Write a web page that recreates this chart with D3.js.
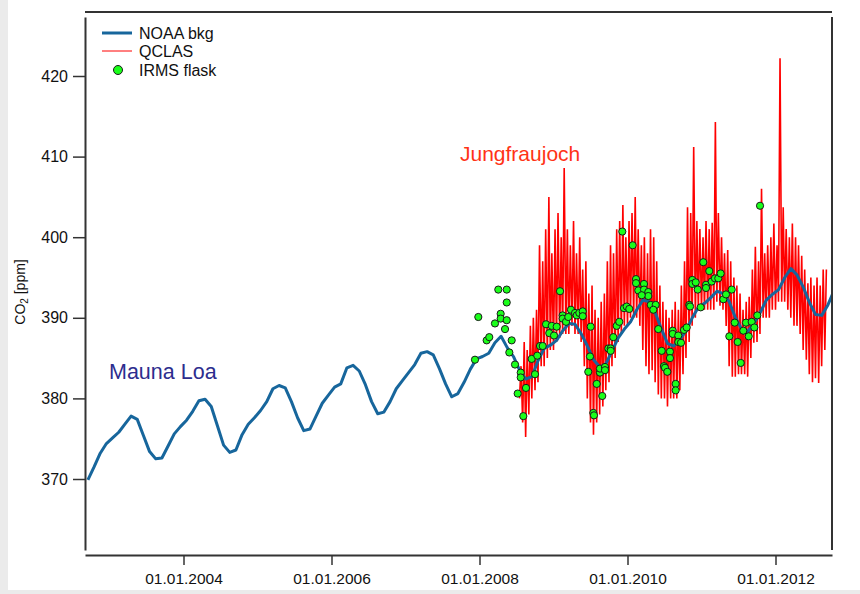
<!DOCTYPE html>
<html>
<head>
<meta charset="utf-8">
<script src="https://cdn.jsdelivr.net/npm/d3@7"></script>
<style>
  html, body { margin: 0; padding: 0; background: #ebebeb; }
  svg { display: block; font-family: "Liberation Sans", Arial, sans-serif; }
</style>
</head>
<body>
<svg id="chart" width="860" height="594"></svg>
<script>
// ---- data -------------------------------------------------------------
// NOAA background (Mauna Loa), monthly means, first month Sep 2002
const noaaFirstYear = 2002, noaaFirstMonth = 9;
const noaaCO2 = [
  369.9, 371.5, 373.2, 374.4,
  375.1, 375.8, 376.8, 377.8, 377.4, 375.4, 373.4, 372.5, 372.6, 374.1, 375.6, 376.5,
  377.3, 378.4, 379.7, 379.9, 379.0, 376.6, 374.2, 373.3, 373.6, 375.5, 376.8, 377.6,
  378.5, 379.6, 381.2, 381.6, 381.3, 379.6, 377.6, 376.0, 376.2, 377.8, 379.4, 380.4,
  381.4, 381.8, 383.8, 384.1, 383.4, 381.7, 379.6, 378.1, 378.3, 379.6, 381.2, 382.2,
  383.2, 384.2, 385.6, 385.8, 385.4, 383.7, 381.8, 380.2, 380.6, 382.0, 383.6, 384.9,
  385.2, 385.6, 386.9, 387.7, 386.3, 385.2, 383.5, 382.4, 382.7, 384.7, 386.2, 386.6,
  387.2, 388.4, 389.3, 389.2, 388.0, 386.5, 384.8, 383.9, 384.3, 385.9, 387.5, 388.6,
  389.5, 391.0, 392.2, 392.0, 390.6, 388.6, 386.8, 386.5, 387.3, 388.4, 390.0, 391.3,
  391.8, 392.5, 393.3, 393.0, 392.0, 390.0, 388.6, 388.3, 389.3, 390.6, 392.2, 392.9,
  393.5, 395.0, 396.1, 395.3, 393.8, 391.9, 390.4, 390.3, 391.6, 393.4
];

// QCLAS Jungfraujoch, half-monthly minimum / maximum, first bin 16 Jul 2008
const qclasFirstYear = 2008, qclasFirstHalfMonth = 13; // 0 = 1 Jan, 1 = 16 Jan, ...
const qclasMax = [
  384, 387, 386, 389, 390, 391, 399, 397, 401, 405,
  398, 401, 403, 400, 408.6, 401, 399, 402, 398, 400,
  396, 397, 393, 394, 391, 390, 392, 393, 397, 399,
  398, 401, 402, 404, 400, 402, 403, 405, 401, 399,
  400, 398, 401, 400, 397, 394, 392, 391, 390, 391,
  392, 391, 394, 397, 403.7, 403, 411.2, 402, 401, 400,
  402, 401, 401.8, 414.3, 403, 400, 398, 398.4, 397, 395,
  394, 393, 391, 392, 392.6, 396, 398.8, 397, 406, 398,
  399, 400, 401.7, 399, 422.2, 403.7, 401, 400, 401.7, 400,
  399, 397.7, 396, 394.3, 395, 394, 395, 394, 396, 396
];
const qclasMin = [
  380, 377, 375.2, 378, 380, 381, 382, 384, 384, 385,
  386, 386, 387, 387.5, 388, 388, 388, 389, 388, 388,
  387, 384, 380, 377, 375.5, 377, 378, 379, 381, 382,
  384, 385, 387, 388, 389, 389, 390, 390, 390, 389,
  386, 384, 383, 383.5, 382, 380.5, 380, 380, 379, 380,
  380, 380, 381, 383, 385, 387, 389, 390, 391, 391,
  391, 391, 391, 391, 392, 391.5, 391, 389, 384, 382.7,
  382.7, 383, 383, 383, 382.7, 385, 386.9, 387, 388, 390,
  390, 390, 391, 391, 392, 392, 392, 391, 390, 389,
  389, 388, 386, 384.8, 383, 382, 382.5, 381.9, 384, 386
];

// IRMS flask samples (decimal year, ppm)
const flaskTime = [
  2007.984, 2007.939, 2008.097, 2008.132, 2008.254, 2008.368, 2008.368, 2008.286, 2008.286, 2008.209,
  2008.368, 2008.345, 2008.435, 2008.403, 2008.480, 2008.557, 2008.557, 2008.516, 2008.592, 2008.628,
  2008.750, 2008.705, 2008.781, 2008.818, 2008.854, 2008.899, 2008.943, 2008.976, 2009.007, 2009.043,
  2009.088, 2009.124, 2009.124, 2009.169, 2009.200, 2009.236, 2009.291, 2009.314, 2009.349, 2009.395,
  2009.395, 2009.503, 2009.493, 2009.470, 2009.584, 2009.538, 2009.547, 2009.659, 2009.628, 2009.628,
  2009.696, 2009.696, 2009.741, 2009.773, 2009.773, 2009.808, 2009.854, 2009.889, 2009.953, 2009.989,
  2010.024, 2009.930, 2010.070, 2010.115, 2010.115, 2010.146,
  2010.223, 2010.223, 2010.281, 2010.281, 2010.192, 2010.314, 2010.381, 2010.349, 2010.416, 2010.462,
  2010.493, 2010.507, 2010.538, 2010.574, 2010.574, 2010.651, 2010.651, 2010.611, 2010.611, 2010.686,
  2010.686, 2010.723, 2010.764, 2010.800, 2010.835, 2010.845, 2010.989, 2010.876, 2010.876, 2010.922,
  2011.024, 2011.105, 2011.061, 2011.061, 2010.949, 2011.138, 2011.182, 2011.227, 2011.259, 2011.295,
  2011.331, 2011.408, 2011.449, 2011.376, 2011.489, 2011.530, 2011.565, 2011.601, 2011.638, 2011.678,
  2011.714, 2011.754, 2011.791
];
const flaskCO2 = [
  390.1, 384.8, 387.2, 387.6, 393.5, 393.5, 391.9, 390.5, 389.9, 389.3,
  389.7, 388.6, 387.2, 385.7, 384.2, 383.2, 382.6, 380.6, 377.8, 381.3,
  383.0, 384.9, 385.3, 386.5, 386.5, 389.2, 388.1, 389.0, 387.8, 388.9,
  393.3, 390.3, 389.9, 389.5, 390.1, 391.0, 390.6, 390.3, 390.6, 390.8,
  390.2, 388.9, 385.2, 383.3, 381.8, 378.2, 377.9, 380.3, 383.2, 383.7,
  383.9, 383.5, 386.2, 386.2, 385.9, 387.6, 389.0, 389.5, 391.2, 391.4,
  391.1, 400.7, 399.0, 394.8, 394.3, 393.4,
  394.2, 393.5, 393.2, 392.7, 392.8, 391.6, 391.6, 391.0, 388.6, 385.9,
  384.0, 383.8, 383.3, 385.8, 385.0, 381.8, 381.0, 388.4, 388.0, 387.8,
  387.0, 386.9, 388.5, 388.8, 391.6, 391.4, 391.3, 394.7, 394.2, 394.4,
  396.9, 395.8, 394.1, 393.7, 393.5, 394.5, 394.9, 394.9, 395.5, 392.3,
  392.9, 393.5, 389.4, 387.7, 387.0, 384.4, 388.4, 389.4, 387.7, 389.5,
  388.8, 390.3, 403.9
];

const yTicks = [370, 380, 390, 400, 410, 420];
const xTicks = [2004, 2006, 2008, 2010, 2012];
const legendItems = ["NOAA bkg", "QCLAS", "IRMS flask"];

// ---- layout -----------------------------------------------------------
const svg = d3.select("#chart");
const W = 860, H = 594;
const plotLeft = 85, plotRight = 832, plotTop = 17, plotBottom = 550;
const frameTop = 12, frameBottom = 555;

const blue = "#17669c", red = "#ff0000", green = "#1aff1a";

// decimal-year scale; ticks fall on 1 January
const xBase = d3.scaleLinear().domain([2004, 2012]).range([183.5, 775.5]);
const x = d3.scaleLinear().domain([xBase.invert(plotLeft), xBase.invert(plotRight)]).range([plotLeft, plotRight]);
const yBase = d3.scaleLinear().domain([370, 420]).range([479, 76]);
const y = d3.scaleLinear().domain([yBase.invert(plotBottom), yBase.invert(plotTop)]).range([plotBottom, plotTop]);

// page and panel background
svg.append("rect").attr("width", W).attr("height", H).attr("fill", "#ebebeb");
svg.append("rect").attr("x", 8).attr("y", 0).attr("width", W - 8).attr("height", 590).attr("fill", "#ffffff");

svg.append("clipPath").attr("id", "plotClip")
  .append("rect").attr("x", plotLeft).attr("y", plotTop)
  .attr("width", plotRight - plotLeft).attr("height", plotBottom - plotTop);

const plot = svg.append("g").attr("clip-path", "url(#plotClip)");

// QCLAS trace: each half-month bin goes from its minimum up to its maximum
const qclasPts = [];
qclasMax.forEach((hi, i) => {
  const h = qclasFirstHalfMonth + i;
  const t = qclasFirstYear + (Math.floor(h / 2) + (h % 2 ? 15 / 31 : 0)) / 12;
  qclasPts.push([t, qclasMin[i]]);
  qclasPts.push([t + 1 / 48, hi]);
});
plot.append("path")
  .datum(qclasPts)
  .attr("fill", "none")
  .attr("stroke", red)
  .attr("stroke-width", 1.6)
  .attr("stroke-linejoin", "miter")
  .attr("stroke-miterlimit", 2)
  .attr("d", d3.line().x(d => x(d[0])).y(d => y(d[1])));

// NOAA background curve
const noaaPts = noaaCO2.map((v, i) => {
  const m = noaaFirstMonth - 1 + i;
  return [noaaFirstYear + (m + 0.5) / 12, v];
});
plot.append("path")
  .datum(noaaPts)
  .attr("fill", "none")
  .attr("stroke", blue)
  .attr("stroke-width", 3)
  .attr("stroke-linejoin", "round")
  .attr("d", d3.line().x(d => x(d[0])).y(d => y(d[1])));

// flask samples
plot.selectAll("circle.flask")
  .data(flaskTime.map((t, i) => [t, flaskCO2[i]]))
  .join("circle")
  .attr("class", "flask")
  .attr("cx", d => x(d[0]))
  .attr("cy", d => y(d[1]))
  .attr("r", 3.6)
  .attr("fill", green)
  .attr("stroke", "#1a1a1a")
  .attr("stroke-width", 1);

// ---- axes -------------------------------------------------------------
const axisColor = "#333333";

const yAxis = svg.append("g")
  .attr("transform", `translate(${plotLeft},0)`)
  .call(d3.axisLeft(y).tickValues(yTicks).tickSize(12).tickSizeOuter(0).tickPadding(5).tickFormat(d3.format("d")));
yAxis.select(".domain").attr("stroke", axisColor).attr("stroke-width", 2);
yAxis.selectAll(".tick line").attr("stroke", axisColor).attr("stroke-width", 1.5);
yAxis.selectAll(".tick text").attr("font-size", 16).attr("fill", "#111")
  .attr("font-family", "'Liberation Sans', Arial, sans-serif");

const xAxis = svg.append("g")
  .attr("transform", `translate(0,${frameBottom})`)
  .call(d3.axisBottom(x).tickValues(xTicks).tickSize(10).tickSizeOuter(0).tickPadding(8)
    .tickFormat(d => "01.01." + d));
xAxis.select(".domain").attr("stroke", axisColor).attr("stroke-width", 2);
xAxis.selectAll(".tick line").attr("stroke", axisColor).attr("stroke-width", 1.5);
xAxis.selectAll(".tick text").attr("font-size", 15.5).attr("fill", "#111")
  .attr("font-family", "'Liberation Sans', Arial, sans-serif");

// top and right frame lines
svg.append("line").attr("x1", plotLeft).attr("x2", plotRight).attr("y1", frameTop).attr("y2", frameTop)
  .attr("stroke", axisColor).attr("stroke-width", 2);
svg.append("line").attr("x1", plotRight).attr("x2", plotRight).attr("y1", plotTop).attr("y2", plotBottom)
  .attr("stroke", axisColor).attr("stroke-width", 2);

// y-axis title
const yTitle = svg.append("text")
  .attr("transform", "translate(25,292) rotate(-90)")
  .attr("text-anchor", "middle")
  .attr("font-size", 14)
  .attr("fill", "#111");
yTitle.append("tspan").text("CO");
yTitle.append("tspan").attr("font-size", 10).attr("dy", 3).text("2");
yTitle.append("tspan").attr("dy", -3).text(" [ppm]");

// station labels
svg.append("text").attr("x", 109).attr("y", 379).attr("font-size", 21.5)
  .attr("fill", "#2d2d8e").text("Mauna Loa");
svg.append("text").attr("x", 460).attr("y", 161).attr("font-size", 21)
  .attr("fill", "#ff3316").text("Jungfraujoch");

// ---- legend -----------------------------------------------------------
const legend = svg.append("g").attr("font-size", 16).attr("fill", "#111");
const legendY = [33, 51, 70];
legend.append("line").attr("x1", 102).attr("x2", 132).attr("y1", legendY[0]).attr("y2", legendY[0])
  .attr("stroke", blue).attr("stroke-width", 3);
legend.append("line").attr("x1", 102).attr("x2", 132).attr("y1", legendY[1]).attr("y2", legendY[1])
  .attr("stroke", red).attr("stroke-width", 1);
legend.append("circle").attr("cx", 118).attr("cy", legendY[2]).attr("r", 4.5)
  .attr("fill", green).attr("stroke", "#1a1a1a").attr("stroke-width", 1);
legend.selectAll("text.item")
  .data(legendItems)
  .join("text")
  .attr("class", "item")
  .attr("x", 139)
  .attr("y", (d, i) => legendY[i])
  .attr("dy", "0.35em")
  .text(d => d);
</script>
</body>
</html>
